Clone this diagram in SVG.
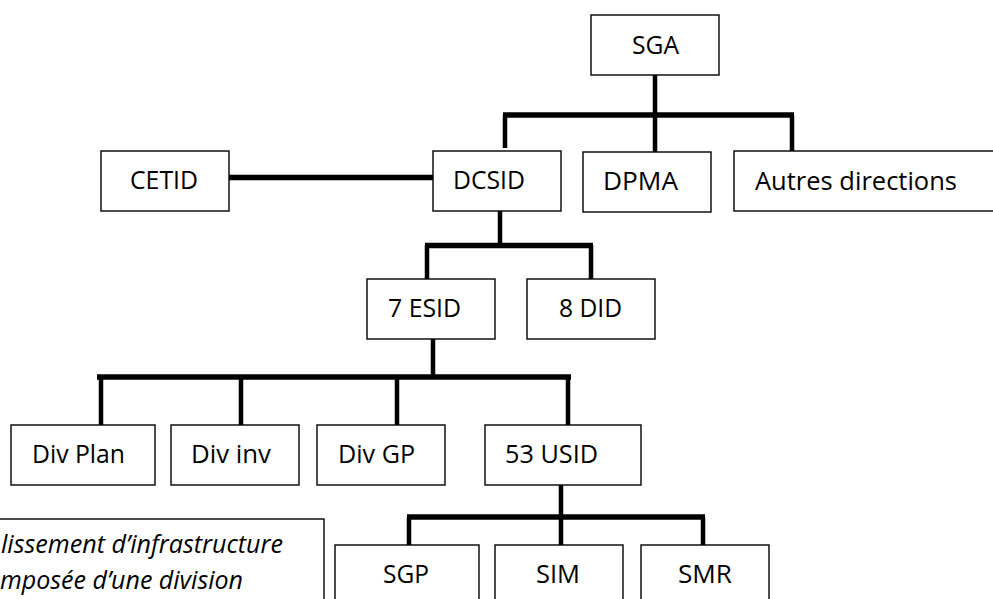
<svg xmlns="http://www.w3.org/2000/svg" width="993" height="599" viewBox="0 0 993 599">
<style>
.box{fill:#fff;stroke:#000;stroke-width:1.4}
.t{font-family:"Open Sans","Liberation Sans",sans-serif;font-size:26px;fill:#000}
.it{font-style:italic;font-size:25px}
.bar{stroke:#000;stroke-width:5.5;fill:none;stroke-linecap:butt}
.vl{stroke:#000;stroke-width:4.5;fill:none}
</style>
<rect width="993" height="599" fill="#fff"/>
<g id="connectors">
<path class="vl" d="M655 75V115M505 115V148M655 115V152M792 115V151"/>
<path class="bar" d="M503 115H794"/>
<path class="bar" d="M229 177.5H433"/>
<path class="vl" d="M500 211V245M427 245V279M591 245V279"/>
<path class="bar" d="M425 245.5H593"/>
<path class="vl" d="M433 339V377M101 377V425M241 377V425M397 377V425M568 377V425"/>
<path class="bar" d="M97 377H571"/>
<path class="vl" d="M561 485V517M409 517V545M561 517V545M703 517V545"/>
<path class="bar" d="M407 517H705"/>
</g>
<g id="sga"><rect class="box" x="591" y="15" width="128" height="60"/><text class="t" x="632" y="54" textLength="47" lengthAdjust="spacingAndGlyphs">SGA</text></g>
<g id="cetid"><rect class="box" x="101" y="151" width="128" height="60"/><text class="t" x="130" y="189" textLength="68" lengthAdjust="spacingAndGlyphs">CETID</text></g>
<g id="dcsid"><rect class="box" x="433" y="151" width="128" height="60"/><text class="t" x="453" y="189" textLength="72" lengthAdjust="spacingAndGlyphs">DCSID</text></g>
<g id="dpma"><rect class="box" x="583" y="152" width="128" height="60"/><text class="t" x="603" y="190" textLength="75" lengthAdjust="spacingAndGlyphs">DPMA</text></g>
<g id="autres"><rect class="box" x="734" y="151" width="265" height="60"/><text class="t" x="755" y="190" textLength="202" lengthAdjust="spacingAndGlyphs">Autres directions</text></g>
<g id="esid"><rect class="box" x="367" y="279" width="128" height="60"/><text class="t" x="388" y="317" textLength="73" lengthAdjust="spacingAndGlyphs">7 ESID</text></g>
<g id="did"><rect class="box" x="527" y="279" width="128" height="60"/><text class="t" x="559" y="317" textLength="63" lengthAdjust="spacingAndGlyphs">8 DID</text></g>
<g id="divplan"><rect class="box" x="11" y="425" width="144" height="60"/><text class="t" x="32" y="463" textLength="93" lengthAdjust="spacingAndGlyphs">Div Plan</text></g>
<g id="divinv"><rect class="box" x="171" y="425" width="128" height="60"/><text class="t" x="191" y="463" textLength="80" lengthAdjust="spacingAndGlyphs">Div inv</text></g>
<g id="divgp"><rect class="box" x="317" y="425" width="128" height="60"/><text class="t" x="338" y="463" textLength="77" lengthAdjust="spacingAndGlyphs">Div GP</text></g>
<g id="usid"><rect class="box" x="485" y="425" width="156" height="60"/><text class="t" x="505" y="463" textLength="93" lengthAdjust="spacingAndGlyphs">53 USID</text></g>
<g id="sgp"><rect class="box" x="335" y="545" width="144" height="60"/><text class="t" x="383" y="583" textLength="46" lengthAdjust="spacingAndGlyphs">SGP</text></g>
<g id="sim"><rect class="box" x="495" y="545" width="128" height="60"/><text class="t" x="536" y="583" textLength="44" lengthAdjust="spacingAndGlyphs">SIM</text></g>
<g id="smr"><rect class="box" x="641" y="545" width="128" height="60"/><text class="t" x="678" y="583" textLength="54" lengthAdjust="spacingAndGlyphs">SMR</text></g>
<g id="legend"><rect class="box" x="-5" y="519" width="329" height="100"/>
<text class="t it" x="1" y="553" textLength="282" lengthAdjust="spacingAndGlyphs">lissement d’infrastructure</text>
<text class="t it" x="0" y="589" textLength="243" lengthAdjust="spacingAndGlyphs">mposée d’une division</text></g>
</svg>
